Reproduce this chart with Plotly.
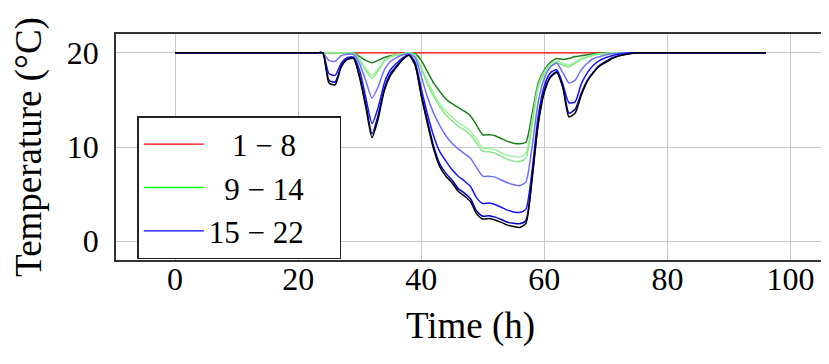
import plotly.graph_objects as go

# time grid (h)
time_h = [0] + list(range(23, 77)) + [96]

def full(vals):
    return [20] + vals + [20]

dark_green = full([20, 20, 20, 20, 20, 20, 20,            # 23-29
                   19.6, 19.2, 18.95, 19.2, 19.5, 19.7, 19.8, 19.9, 20,   # 30-38
                   19.9, 19.2, 18.0, 16.8, 15.9, 15.1, 14.6, 14.2, 13.8, 13.3,  # 39-48
                   12.3, 11.3, 11.3, 11.2, 10.9, 10.6, 10.4, 10.35, 10.5,      # 49-57
                   13.5, 16.8, 18.2, 19.0, 19.4, 19.3, 19.4, 19.6, 19.7, 19.8,  # 58-67
                   19.9, 19.95, 20, 20, 20, 20, 20, 20, 20])                   # 68-76

light_green_a = full([20, 20, 20, 20, 20, 20, 20,
                      19.3, 18.3, 17.6, 18.3, 19.2, 19.6, 19.8, 19.9, 20,
                      19.8, 18.5, 17.0, 15.7, 14.6, 13.8, 13.2, 12.6, 12.2, 11.7,
                      10.8, 9.9, 9.85, 9.7, 9.4, 9.15, 9.0, 8.95, 9.3,
                      12.8, 16.5, 18.0, 18.8, 19.1, 18.9, 18.7, 19.0, 19.4, 19.6,
                      19.8, 19.9, 19.95, 20, 20, 20, 20, 20, 20])

light_green_b = full([20, 20, 20, 20, 20, 20, 20,
                      19.2, 18.1, 17.3, 18.1, 19.1, 19.55, 19.8, 19.9, 20,
                      19.7, 18.3, 16.7, 15.4, 14.3, 13.4, 12.8, 12.2, 11.8, 11.3,
                      10.4, 9.55, 9.5, 9.35, 9.0, 8.7, 8.5, 8.45, 8.8,
                      12.3, 16.2, 17.8, 18.6, 18.95, 18.7, 18.5, 18.9, 19.3, 19.55,
                      19.75, 19.85, 19.93, 19.97, 20, 20, 20, 20, 20])

light_blue = full([20, 20, 19.2, 19.1, 19.7, 19.85, 19.85,
                   18.8, 17.0, 15.2, 16.4, 18.2, 19.1, 19.5, 19.8, 19.9,
                   19.5, 17.5, 15.3, 13.6, 12.3, 11.2, 10.4, 9.8, 9.3, 8.8,
                   7.8, 6.9, 6.9, 6.8, 6.5, 6.2, 6.0, 5.9, 6.3,
                   10.0, 14.8, 17.3, 18.5, 18.9, 17.9, 16.8, 17.1, 18.2, 18.9,
                   19.4, 19.6, 19.8, 19.9, 19.95, 20, 20, 20, 20])

blue = full([20, 20, 17.8, 17.6, 18.9, 19.5, 19.55,
             18.1, 15.2, 12.5, 14.2, 16.8, 18.2, 18.9, 19.5, 19.8,
             19.0, 16.2, 13.5, 11.2, 9.5, 8.5, 7.6, 6.9, 6.4, 5.8,
             4.6, 4.0, 4.05, 3.9, 3.6, 3.3, 3.1, 3.05, 3.4,
             7.5, 13.3, 16.5, 17.9, 18.2, 16.7, 14.7, 14.8, 16.7, 17.9,
             18.7, 19.2, 19.5, 19.7, 19.85, 19.92, 19.97, 20, 20])

dark_blue = full([20, 20, 17.1, 16.9, 18.6, 19.35, 19.45,
                  17.5, 14.5, 11.4, 13.4, 16.2, 17.8, 18.6, 19.35, 19.75,
                  18.8, 15.6, 12.8, 10.1, 8.2, 7.2, 6.5, 5.6, 5.1, 4.5,
                  3.2, 2.65, 2.7, 2.55, 2.3, 2.0, 1.9, 1.85, 2.2,
                  6.8, 12.6, 16.0, 17.5, 18.0, 16.5, 13.6, 14.0, 15.7, 17.1,
                  18.0, 18.7, 19.1, 19.45, 19.68, 19.82, 19.93, 19.98, 20])

black = full([20, 20, 16.8, 16.6, 18.5, 19.3, 19.4,
              17.3, 14.2, 11.0, 13.0, 16.0, 17.6, 18.5, 19.3, 19.75,
              18.7, 15.4, 12.5, 9.8, 7.9, 6.9, 6.2, 5.3, 4.8, 4.2,
              2.9, 2.35, 2.4, 2.25, 2.0, 1.7, 1.55, 1.45, 1.9,
              6.5, 12.4, 15.8, 17.4, 17.9, 16.3, 13.2, 13.6, 15.5, 17.0,
              17.9, 18.6, 19.0, 19.4, 19.65, 19.8, 19.92, 19.98, 20])

red_x = [0, 96]
red_y = [20, 20]

NB = "\u00a0"
legend_names = [NB * 3 + "1 \u2212 8" + NB * 4,
                 NB * 2 + "9 \u2212 14" + NB * 4,
                 "15 \u2212 22" + NB * 4]
legend_colors = ["#ff0000", "#00ff00", "#0000ff"]

x_ticks = [0, 20, 40, 60, 80, 100]
y_ticks = [0, 10, 20]

FONT = "Liberation Serif"
FS_TICK = 32
FS_TITLE = 37
FS_LEG = 31

fig = go.Figure()
fig.add_trace(go.Scatter(x=red_x, y=red_y, mode="lines",
                         line=dict(color="#ff0000", width=1.3), showlegend=False))
series = [
    (dark_green, "#1a801a"),
    (light_green_a, "#a0f0a0"),
    (light_green_b, "#86ea86"),
    (light_blue, "#6e6eff"),
    (blue, "#1414ff"),
    (dark_blue, "#0000c0"),
    (black, "#000000"),
]
for vals, col in series:
    fig.add_trace(go.Scatter(x=time_h, y=vals, mode="lines",
                             line=dict(color=col, width=1.5, shape="spline", smoothing=0.6),
                             showlegend=False))
for name, col in zip(legend_names, legend_colors):
    fig.add_trace(go.Scatter(x=[None], y=[None], mode="lines", name=name,
                             line=dict(color=col, width=1.3)))

# page body has an 8px margin, so the figure is 8px smaller and shifted
fig.update_layout(
    width=821, height=356,
    margin=dict(l=108, r=4, t=26, b=104, autoexpand=False),
    paper_bgcolor="white", plot_bgcolor="white",
    font=dict(family=FONT, size=FS_TICK, color="black"),
    showlegend=True,
    legend=dict(x=0.03, y=0.637, xanchor="left", yanchor="top",
                bgcolor="white", bordercolor="#222", borderwidth=1.5,
                font=dict(family=FONT, size=FS_LEG), itemwidth=60,
                tracegroupgap=0),
)
fig.update_xaxes(range=[-9.6, 105.6], tickvals=x_ticks, showgrid=True,
                 gridcolor="#c8c8c8", gridwidth=1, zeroline=False,
                 showline=True, mirror=True, linecolor="#333", linewidth=1.5,
                 ticks="", automargin=False, ticklabelstandoff=-10,
                 title=dict(text="Time (h)", font=dict(size=FS_TITLE), standoff=16))
fig.update_yaxes(range=[-2, 22], tickvals=y_ticks, showgrid=True,
                 gridcolor="#c8c8c8", gridwidth=1, zeroline=False,
                 showline=True, mirror=True, linecolor="#333", linewidth=1.5,
                 ticks="", automargin=False, ticklabelstandoff=9,
                 title=dict(text="Temperature (°C)", font=dict(size=FS_TITLE), standoff=19))

fig.write_html("out.html")
